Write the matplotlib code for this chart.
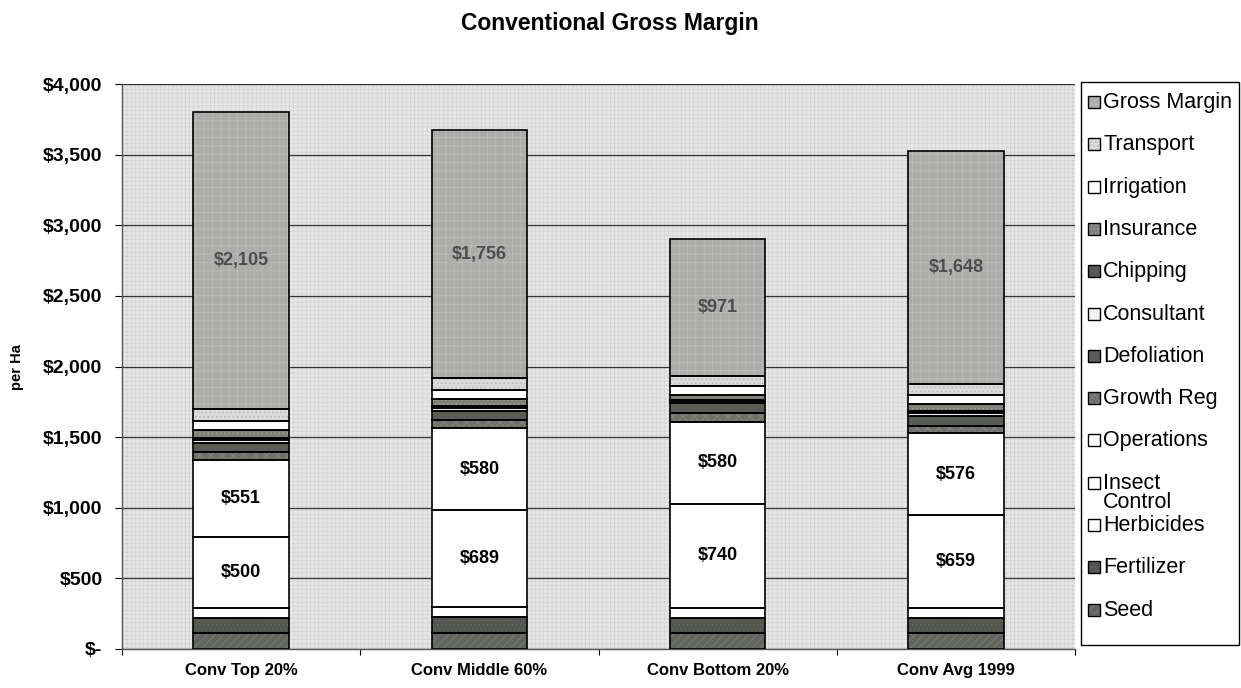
"""Conventional Gross Margin - stacked cost bars per Ha."""

import matplotlib
matplotlib.use('Agg')
import matplotlib.pyplot as plt
from matplotlib.patches import Rectangle
import numpy as np

plt.rcParams['font.family'] = ['Liberation Sans', 'DejaVu Sans']
plt.rcParams['hatch.linewidth'] = 0.5

categories = ['Conv Top 20%', 'Conv Middle 60%', 'Conv Bottom 20%', 'Conv Avg 1999']

# stack order bottom -> top (legend reads the other way)
components = ['Seed', 'Fertilizer', 'Herbicides', 'Insect\nControl', 'Operations',
              'Growth Reg', 'Defoliation', 'Consultant', 'Chipping', 'Insurance',
              'Irrigation', 'Transport', 'Gross Margin']

seed = [110, 115, 110, 112]
fertilizer = [110, 110, 110, 110]
herbicides = [70, 70, 70, 70]
insect_control = [500, 689, 740, 659]
operations = [551, 580, 580, 576]
growth_reg = [55, 55, 60, 55]
defoliation = [65, 65, 70, 70]
consultant = [20, 20, 15, 20]
chipping = [15, 15, 10, 15]
insurance = [55, 50, 35, 45]
irrigation = [65, 65, 60, 65]
transport = [85, 85, 72, 83]
gross_margin = [2105, 1756, 971, 1648]

series = [seed, fertilizer, herbicides, insect_control, operations, growth_reg,
          defoliation, consultant, chipping, insurance, irrigation, transport,
          gross_margin]
labelled = {'Insect\nControl': 'k', 'Operations': 'k', 'Gross Margin': '#4d4d4d'}

# face colour, hatch, hatch colour
STYLE = {
    'Seed': ('#62665f', '////', '#7d8279'),
    'Fertilizer': ('#52564f', '....', '#666a63'),
    'Herbicides': ('#ffffff', None, '#ffffff'),
    'Insect\nControl': ('#ffffff', None, '#ffffff'),
    'Operations': ('#ffffff', None, '#ffffff'),
    'Growth Reg': ('#6e726b', 'xxx', '#8a8e87'),
    'Defoliation': ('#595d56', None, '#595d56'),
    'Consultant': ('#f2f2f2', None, '#f2f2f2'),
    'Chipping': ('#565953', None, '#565953'),
    'Insurance': ('#7e827b', '....', '#a0a49d'),
    'Irrigation': ('#ffffff', None, '#ffffff'),
    'Transport': ('#dadada', '....', '#b8b8b8'),
    'Gross Margin': ('#acadaa', '++', '#bdbebb'),
}

fig = plt.figure(figsize=(12.41, 6.88), dpi=100)
fig.patch.set_facecolor('white')
ax = fig.add_axes([0.0983, 0.0567, 0.768, 0.821])
ax.set_facecolor('#e6e6e6')
ax.patch.set_hatch('++++')
ax.patch.set_edgecolor('#d2d2d2')

x = np.arange(len(categories))
bottom = np.zeros(len(categories))
for name, vals in zip(components, series):
    vals = np.array(vals, dtype=float)
    fc, hatch, hc = STYLE[name]
    # fill + soft hatch first, then the black outline on top
    ax.bar(x, vals, bottom=bottom, width=0.4, color=fc, edgecolor=hc,
           linewidth=0, hatch=hatch, zorder=3)
    ax.bar(x, vals, bottom=bottom, width=0.4, fill=False, edgecolor='black',
           linewidth=1.2, zorder=4)
    if name in labelled:
        for xi, b, v in zip(x, bottom, vals):
            ax.text(xi, b + v / 2, f'${v:,.0f}', ha='center', va='center',
                    fontsize=13, fontweight='bold', color=labelled[name],
                    zorder=5)
    bottom += vals

ax.set_xlim(-0.5, 3.5)
ax.set_ylim(0, 4000)
ax.set_yticks(np.arange(0, 4001, 500))
ax.yaxis.set_major_formatter(plt.FuncFormatter(
    lambda v, p: '$-' if v == 0 else f'${v:,.0f}'))
ax.grid(axis='y', color='#333333', linewidth=0.9, zorder=1)
ax.set_axisbelow(True)
ax.tick_params(axis='y', labelsize=14, length=5, width=0.8, pad=9)
for lbl in ax.get_yticklabels():
    lbl.set_fontweight('bold')

ax.set_xticks(x)
ax.set_xticklabels(categories, fontsize=12, fontweight='bold')
ax.set_xticks(np.arange(-0.5, 4.0, 1.0), minor=True)
ax.tick_params(axis='x', which='major', length=0, pad=10)
ax.tick_params(axis='x', which='minor', length=4, width=0.8)
for side in ['left', 'bottom']:
    ax.spines[side].set_color('#555555')
    ax.spines[side].set_linewidth(1.0)
for side in ['top', 'right']:
    ax.spines[side].set_visible(False)

ax.set_ylabel('per Ha', fontsize=10.5, fontweight='bold', labelpad=14)
fig.suptitle('Conventional Gross Margin', x=0.4915, y=0.982,
             fontsize=16.5, fontweight='bold')

# legend drawn by hand so rows keep the even spacing of the original
W, H = fig.get_size_inches() * fig.dpi
fig.add_artist(Rectangle((1081 / W, 1 - 645 / H), 158 / W, (645 - 82) / H,
                         transform=fig.transFigure, facecolor='white',
                         edgecolor='black', linewidth=1.0))
for i, name in enumerate(components[::-1]):
    fc, hatch, hc = STYLE[name]
    yc = 102 + i * 42.3
    box = (1088 / W, 1 - (yc + 6) / H)
    fig.add_artist(Rectangle(box, 12 / W, 12 / H, transform=fig.transFigure,
                             facecolor=fc, edgecolor=hc, linewidth=0, hatch=hatch))
    fig.add_artist(Rectangle(box, 12 / W, 12 / H, transform=fig.transFigure,
                             fill=False, edgecolor='black', linewidth=1.0))
    fig.text(1103 / W, 1 - (yc - 10) / H, name, ha='left', va='top',
             fontsize=15.5, linespacing=0.92)

fig.savefig('out.png', dpi=100, facecolor='white')
plt.close(fig)
